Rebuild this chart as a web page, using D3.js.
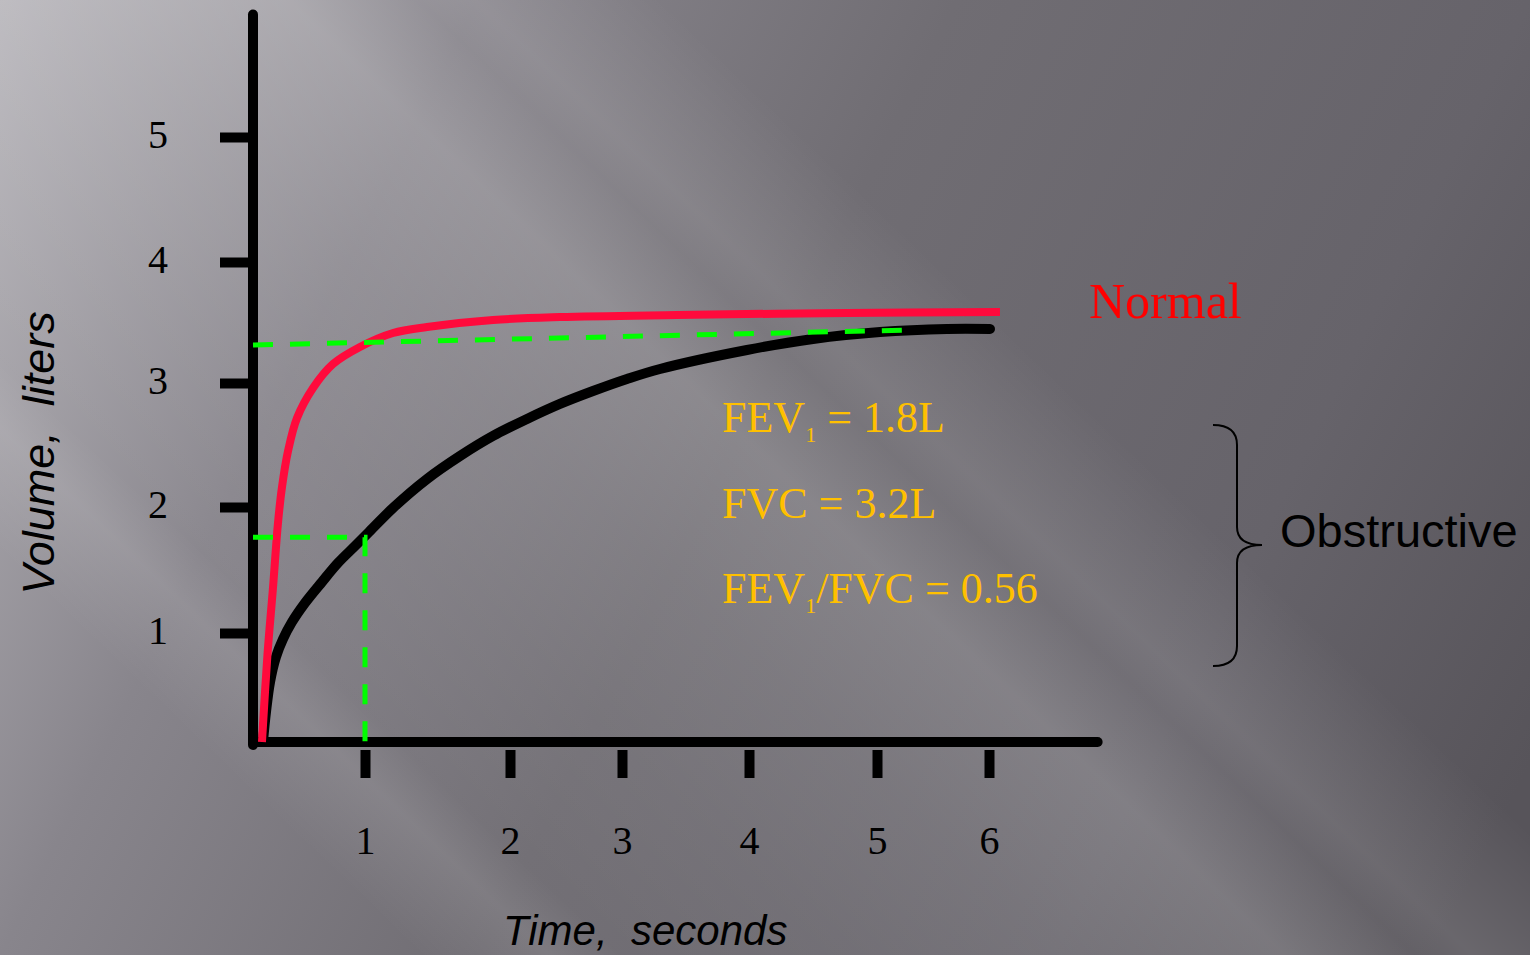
<!DOCTYPE html>
<html>
<head>
<meta charset="utf-8">
<script src="https://cdn.jsdelivr.net/npm/d3@7"></script>
<style>
html,body{margin:0;padding:0;overflow:hidden;background:#8a878d;}
svg{display:block;}
</style>
</head>
<body>
<svg id="chart" width="1530" height="955"></svg>
<script>
// ---------- data ----------
const timeTicks = [1, 2, 3, 4, 5, 6];
const volumeTicks = [1, 2, 3, 4, 5];

const normalTime   = [0.08, 0.129, 0.179, 0.223, 0.259, 0.313, 0.393, 0.536, 0.714, 0.955, 1.193, 1.428, 1.883, 2.446, 3.433, 4.766, 6.098];
const normalVolume = [0, 0.798, 1.365, 1.873, 2.161, 2.452, 2.718, 2.96, 3.157, 3.298, 3.413, 3.463, 3.521, 3.545, 3.562, 3.579, 3.587];

const obstructiveTime   = [0.089, 0.116, 0.152, 0.205, 0.268, 0.348, 0.464, 0.616, 0.759, 0.911, 1.021, 1.193, 1.428, 1.655, 1.883, 2.152, 2.446, 2.741, 3.039, 3.299, 3.984, 4.5, 5.027, 5.625, 6.009];
const obstructiveVolume = [0, 0.275, 0.55, 0.78, 0.945, 1.087, 1.238, 1.405, 1.556, 1.69, 1.794, 1.992, 2.226, 2.411, 2.573, 2.71, 2.831, 2.935, 3.033, 3.116, 3.273, 3.364, 3.421, 3.446, 3.446];

const fev1Time   = [0, 1, 1];
const fev1Volume = [1.76, 1.76, 0];
const fvcTime    = [0, 5.29];
const fvcVolume  = [3.314, 3.438];

const seriesLabels = ["Normal", "Obstructive"];
const statLines = [
  ["FEV", "1", " = 1.8L"],
  ["FVC = 3.2L"],
  ["FEV", "1", "/FVC = 0.56"]
];
const xTitle = "Time,\u00a0 seconds";
const yTitle = "Volume,\u00a0 liters";

// ---------- setup ----------
const svg = d3.select("#chart");
const W = 1530, H = 955;

const defs = svg.append("defs");
const bg = defs.append("linearGradient").attr("id", "bg")
  .attr("gradientUnits", "userSpaceOnUse")
  .attr("x1", 0).attr("y1", 0).attr("x2", 1530).attr("y2", 765);
[[0, "#b8b6bb"], [0.25, "#88858c"], [0.5, "#706d73"], [0.8, "#66636a"], [1, "#57545a"]]
  .forEach(([o, c]) => bg.append("stop").attr("offset", o).attr("stop-color", c));

const streak = defs.append("linearGradient").attr("id", "streak")
  .attr("gradientUnits", "userSpaceOnUse")
  .attr("x1", -552).attr("y1", 576).attr("x2", 828).attr("y2", -864);
[[0, 0], [0.2, 0], [0.245, 0.10], [0.27, 0.02], [0.35, 0.06], [0.425, 0.11], [0.5, 0.18], [0.545, 0.07], [0.565, 0.11], [0.63, 0], [1, 0]]
  .forEach(([o, a]) => streak.append("stop").attr("offset", o).attr("stop-color", "#ffffff").attr("stop-opacity", a));

svg.append("rect").attr("width", W).attr("height", H).attr("fill", "url(#bg)");
svg.append("rect").attr("width", W).attr("height", H).attr("fill", "url(#streak)");

// ---------- scales ----------
const x = d3.scaleLinear().domain([0, 1, 2, 3, 4, 5, 6]).range([253, 365, 510, 622, 749, 877, 989]);
const y = d3.scaleLinear().domain([0, 1, 2, 3, 4, 5]).range([742, 633, 507, 383, 262, 137]);

// ---------- axes ----------
svg.append("line")
  .attr("x1", x(0)).attr("y1", y(5.98)).attr("x2", x(0)).attr("y2", y(0) + 3)
  .attr("stroke", "#000").attr("stroke-width", 10).attr("stroke-linecap", "round");
svg.append("line")
  .attr("x1", x(0)).attr("y1", y(0)).attr("x2", x(6.97)).attr("y2", y(0))
  .attr("stroke", "#000").attr("stroke-width", 10).attr("stroke-linecap", "round");

const gy = svg.append("g")
  .attr("transform", `translate(${x(0) - 1},0)`)
  .call(d3.axisLeft(y).tickValues(volumeTicks).tickSize(32).tickPadding(52).tickFormat(d3.format("d")));
gy.select(".domain").remove();
gy.attr("font-family", "'Liberation Serif', 'DejaVu Serif', serif").attr("font-size", 40);
gy.selectAll(".tick line").attr("stroke", "#000").attr("stroke-width", 10);
gy.selectAll(".tick text").attr("fill", "#000").attr("text-anchor", "end").attr("dy", "0.26em");

const gx = svg.append("g")
  .attr("transform", `translate(0,${y(0) + 8})`)
  .call(d3.axisBottom(x).tickValues(timeTicks).tickSize(28).tickPadding(48).tickFormat(d3.format("d")));
gx.select(".domain").remove();
gx.attr("font-family", "'Liberation Serif', 'DejaVu Serif', serif").attr("font-size", 40);
gx.selectAll(".tick line").attr("stroke", "#000").attr("stroke-width", 10);
gx.selectAll(".tick text").attr("fill", "#000");

// ---------- curves ----------
const line = d3.line().x(d => x(d[0])).y(d => y(d[1])).curve(d3.curveCatmullRom.alpha(0.5));
const zip = (a, b) => a.map((v, i) => [v, b[i]]);

svg.append("path").attr("d", line(zip(obstructiveTime, obstructiveVolume)))
  .attr("fill", "none").attr("stroke", "#000").attr("stroke-width", 10).attr("stroke-linecap", "round");
svg.append("path").attr("d", line(zip(normalTime, normalVolume)))
  .attr("fill", "none").attr("stroke", "#ff0a3c").attr("stroke-width", 8).attr("stroke-linecap", "butt");

const straight = d3.line().x(d => x(d[0])).y(d => y(d[1]));
svg.append("path").attr("d", straight(zip(fvcTime, fvcVolume)))
  .attr("fill", "none").attr("stroke", "#00ff00").attr("stroke-width", 5).attr("stroke-dasharray", "20,17");
svg.append("path").attr("d", straight(zip(fev1Time, fev1Volume)))
  .attr("fill", "none").attr("stroke", "#00ff00").attr("stroke-width", 5).attr("stroke-dasharray", "20,17");

// ---------- titles ----------
svg.append("text").text(xTitle)
  .attr("x", 503).attr("y", 945)
  .attr("font-family", "'Liberation Sans', Arial, sans-serif").attr("font-style", "italic")
  .attr("font-size", 42).attr("fill", "#000");

svg.append("text").text(yTitle)
  .attr("transform", "translate(54,453) rotate(-90)")
  .attr("text-anchor", "middle")
  .attr("font-family", "'Liberation Sans', Arial, sans-serif").attr("font-style", "italic")
  .attr("font-size", 45).attr("fill", "#000");

// ---------- annotations ----------
svg.append("text").text(seriesLabels[0])
  .attr("x", 1089).attr("y", 318)
  .attr("font-family", "'Liberation Serif', 'DejaVu Serif', serif")
  .attr("font-size", 50).attr("fill", "#ff0000");

svg.append("text").text(seriesLabels[1])
  .attr("x", 1280).attr("y", 547)
  .attr("font-family", "'Liberation Sans', Arial, sans-serif")
  .attr("font-size", 47).attr("fill", "#000");

const statBaselines = [432, 518, 603];
statLines.forEach((parts, i) => {
  const t = svg.append("text")
    .attr("x", 722).attr("y", statBaselines[i])
    .attr("font-family", "'Liberation Serif', 'DejaVu Serif', serif")
    .attr("font-size", 44).attr("fill", "#ffc000");
  if (parts.length === 1) {
    t.text(parts[0]);
  } else {
    t.append("tspan").text(parts[0]);
    t.append("tspan").text(parts[1]).attr("font-size", 22).attr("dy", 10);
    t.append("tspan").text(parts[2]).attr("dy", -10);
  }
});

// brace
svg.append("path")
  .attr("d", "M1213,425 C1230,425 1237,432 1237,445 L1237,527 C1237,539 1246,545 1262,545 C1246,545 1237,551 1237,563 L1237,646 C1237,659 1230,666 1213,666")
  .attr("fill", "none").attr("stroke", "#000").attr("stroke-width", 2);
</script>
</body>
</html>
